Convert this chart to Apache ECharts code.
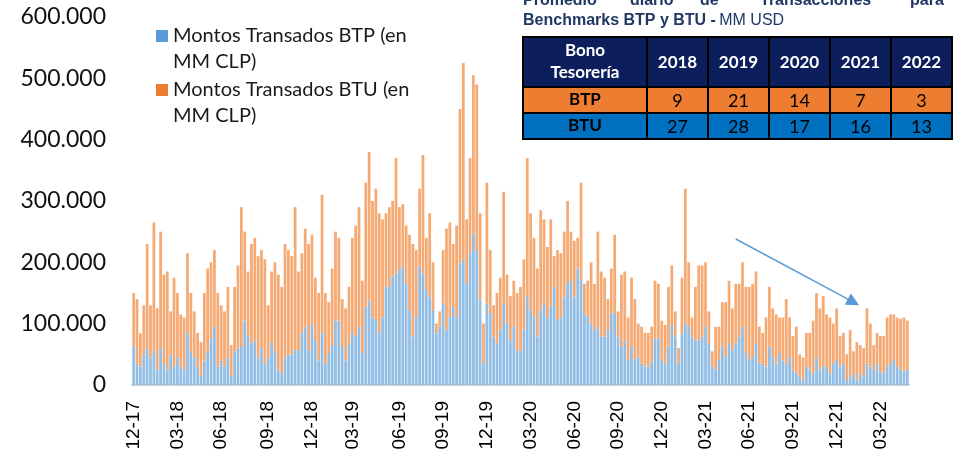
<!DOCTYPE html>
<html>
<head>
<meta charset="utf-8">
<script src="https://cdn.jsdelivr.net/npm/echarts@6/dist/echarts.min.js"></script>
<style>
  html, body { margin: 0; padding: 0; background: #fff; }
  #chart { width: 960px; height: 460px; }
</style>
</head>
<body>
<div id="chart"></div>
<script>
// Weekly series starting 2017-12-01, values in thousands of MM CLP
const firstWeek = '2017-12-01';
const btpMiles = [
  63,35,30,50,60,45,55,25,60,35,25,50,30,45,30,25,85,55,45,30,15,40,55,75,95,30,40,30,45,15,55,60,62,105,80,68,72,45,
  60,35,45,70,55,25,20,45,50,50,57,57,85,95,57,100,73,40,85,35,52,65,105,105,62,40,68,85,80,95,52,128,138,110,106,85,110,160,
  160,177,182,188,193,166,122,79,111,193,182,155,144,122,84,95,133,90,111,128,111,198,204,166,215,247,220,139,35,133,117,79,68,90,133,100,73,95,57,
  55,90,145,122,111,79,122,133,111,128,160,106,111,144,166,171,144,190,171,117,111,100,90,95,79,79,90,117,117,79,63,73,41,63,41,46,35,30,30,
  38,76,76,41,35,63,98,79,35,84,100,95,79,73,73,79,95,68,30,25,41,63,46,68,57,68,79,95,52,41,46,68,35,35,30,63,46,35,52,
  40,35,46,25,19,14,8,30,25,19,46,25,30,30,19,35,41,30,35,8,14,19,8,19,14,35,30,25,35,22,19,30,35,41,30,25,22,25
];
const btuMiles = [
  87,105,54,80,170,85,210,100,190,145,160,70,145,105,85,85,130,95,75,55,55,110,135,125,125,120,90,90,115,50,105,135,228,145,105,162,168,165,
  160,170,85,115,145,155,140,185,170,160,233,128,130,160,173,145,102,110,225,115,83,125,145,135,78,85,92,155,180,195,118,202,242,190,214,195,160,120,
  130,123,188,102,102,94,123,151,109,127,193,85,136,78,16,25,87,165,154,102,149,252,321,104,155,258,270,141,65,197,103,51,82,85,182,80,72,75,93,
  105,115,225,158,129,111,163,137,114,142,50,114,104,106,134,79,91,50,159,48,59,100,75,155,106,96,50,73,128,41,117,112,69,112,99,54,60,55,55,
  57,94,89,64,63,97,97,41,25,91,220,105,31,87,122,116,105,52,25,70,54,72,89,102,68,97,86,105,108,119,119,117,60,50,80,97,79,80,58,
  70,105,64,55,76,36,37,55,60,86,104,100,115,85,91,65,84,50,50,42,76,36,62,46,46,90,70,40,50,58,61,80,80,74,80,83,88,80
];
const seriesNames = ['Montos Transados BTP (en MM CLP)', 'Montos Transados BTU (en MM CLP)'];

// Table: average daily transactions (MM USD)
const tableYears = ['2018', '2019', '2020', '2021', '2022'];
const tableBTP = [9, 21, 14, 7, 3];
const tableBTU = [27, 28, 17, 16, 13];

// Trend arrow (week index, value in MM CLP)
const arrowFrom = { week: 179, value: 238000 };
const arrowTo = { week: 214, value: 135000 };

// ---- build
const weeks = [];
const t0 = Date.parse(firstWeek + 'T00:00:00Z');
for (let i = 0; i < btpMiles.length; i++) {
  weeks.push(new Date(t0 + i * 7 * 86400000).toISOString().slice(0, 10));
}
const fmtThousands = v => String(v).replace(/\B(?=(\d{3})+(?!\d))/g, '.');

// table graphics
const tX = [523, 647, 708, 769, 830, 891, 952];
const tY = [37, 87, 113, 139];
const g = [];
g.push({ type: 'rect', shape: { x: tX[0], y: tY[0], width: tX[6] - tX[0], height: tY[1] - tY[0] }, style: { fill: '#0c1f5c' } });
g.push({ type: 'rect', shape: { x: tX[0], y: tY[1], width: tX[6] - tX[0], height: tY[2] - tY[1] }, style: { fill: '#ed7d31' } });
g.push({ type: 'rect', shape: { x: tX[0], y: tY[2], width: tX[6] - tX[0], height: tY[3] - tY[2] }, style: { fill: '#0070c0' } });
tY.forEach(y => g.push({ type: 'line', shape: { x1: tX[0] - 1, y1: y, x2: tX[6] + 1, y2: y }, style: { stroke: '#000', lineWidth: 2 } }));
tX.forEach(x => g.push({ type: 'line', shape: { x1: x, y1: tY[0], x2: x, y2: tY[3] }, style: { stroke: '#000', lineWidth: 2 } }));
const cell = (txt, cx, cy, color, bold, size) => ({
  type: 'text', x: cx, y: cy,
  style: { text: txt, fill: color, font: (bold ? 'bold ' : '') + size + 'px Lato', align: 'center', verticalAlign: 'middle', lineHeight: 22 }
});
g.push(cell('Bono\nTesorería', (tX[0] + tX[1]) / 2, (tY[0] + tY[1]) / 2, '#fff', true, 17));
g.push(cell('BTP', (tX[0] + tX[1]) / 2, (tY[1] + tY[2]) / 2, '#000', true, 17));
g.push(cell('BTU', (tX[0] + tX[1]) / 2, (tY[2] + tY[3]) / 2, '#000', true, 17));
tableYears.forEach((yr, i) => {
  const cx = (tX[i + 1] + tX[i + 2]) / 2;
  g.push(cell(yr, cx, (tY[0] + tY[1]) / 2 + 1, '#fff', true, 17));
  g.push(cell(String(tableBTP[i]), cx, (tY[1] + tY[2]) / 2 + 1, '#000', false, 18));
  g.push(cell(String(tableBTU[i]), cx, (tY[2] + tY[3]) / 2 + 1, '#000', false, 18));
});
// title (justified first line, partially cut)
const titleWords = [['Promedio', 523], ['diario', 630], ['de', 700], ['Transacciones', 760], ['para', 910]];
titleWords.forEach(([w, x]) => g.push({ type: 'text', x: x, y: 1, style: { text: w, fill: '#1f3864', font: 'bold 16px "Liberation Sans"', verticalAlign: 'middle' } }));
g.push({ type: 'text', x: 523, y: 21, style: {
  text: '{b|Benchmarks BTP y BTU -} {n|MM USD}', verticalAlign: 'middle',
  rich: { b: { fill: '#1f3864', font: 'bold 16px "Liberation Sans"' }, n: { fill: '#1f3864', font: '16px "Liberation Sans"' } }
} });

const legendBase = {
  orient: 'vertical', left: 156, padding: 0, itemWidth: 12, itemHeight: 12, icon: 'rect',
  selectedMode: false,
  textStyle: { fontFamily: 'Lato', fontSize: 20, color: '#1a1a1a', lineHeight: 26 },
  formatter: name => ' \n' + name.replace(' (en ', ' (en\n')
};

const chart = echarts.init(document.getElementById('chart'), null, { renderer: 'canvas' });
chart.setOption({
  animation: false,
  grid: { left: 132, right: 51, top: 17, bottom: 75 },
  legend: [
    Object.assign({}, legendBase, { top: -3, data: [{ name: seriesNames[0], itemStyle: { color: '#5b9bd5' } }] }),
    Object.assign({}, legendBase, { top: 51, data: [{ name: seriesNames[1], itemStyle: { color: '#ed7d31' } }] })
  ],
  xAxis: {
    type: 'category', data: weeks, boundaryGap: true,
    axisLine: { lineStyle: { color: '#d0d0d0', width: 2 } },
    axisTick: { show: false },
    axisLabel: {
      rotate: 90, margin: 16, fontSize: 19, color: '#000', fontFamily: '"Liberation Sans", Arial',
      interval: (idx, val) => [12, 3, 6, 9].includes(+val.slice(5, 7)) && +val.slice(8, 10) <= 7,
      formatter: val => val.slice(5, 7) + '-' + val.slice(2, 4)
    }
  },
  yAxis: {
    type: 'value', min: 0, max: 600000, interval: 100000,
    axisLine: { show: false }, axisTick: { show: false }, splitLine: { show: false },
    axisLabel: { fontSize: 23, fontFamily: 'Lato', color: '#111', margin: 26, formatter: v => fmtThousands(v) }
  },
  series: [
    {
      name: seriesNames[0], type: 'bar', stack: 'total', barCategoryGap: '18%', silent: true,
      itemStyle: { color: '#92bde4' },
      data: btpMiles.map(v => v * 1000),
      markLine: {
        silent: true, symbol: ['none', 'triangle'], symbolSize: [13, 13],
        lineStyle: { color: '#5b9bd5', width: 1.5, type: 'solid' },
        label: { show: false },
        data: [[{ coord: [weeks[arrowFrom.week], arrowFrom.value] }, { coord: [weeks[arrowTo.week], arrowTo.value] }]]
      }
    },
    {
      name: seriesNames[1], type: 'bar', stack: 'total', barCategoryGap: '18%', silent: true,
      itemStyle: { color: '#f5aa74' },
      data: btuMiles.map(v => v * 1000)
    }
  ],
  graphic: g
});
</script>
</body>
</html>
